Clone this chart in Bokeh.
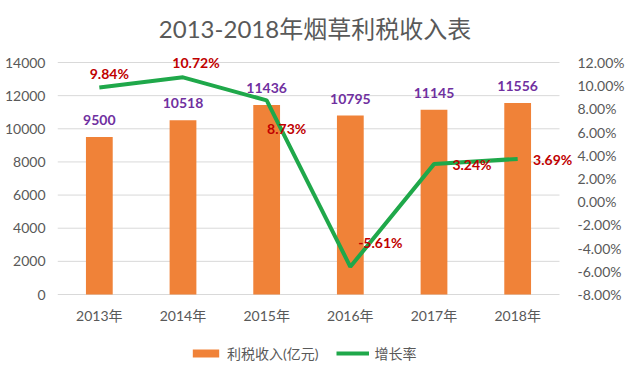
from bokeh.plotting import figure
from bokeh.models import (ColumnDataSource, Range1d, LinearAxis, FixedTicker,
                          NumeralTickFormatter, Legend, LegendItem)
from bokeh.core.properties import value
from bokeh.embed import file_html
from bokeh.resources import INLINE

# ---- data ----
years = ["2013年", "2014年", "2015年", "2016年", "2017年", "2018年"]
revenue = [9500, 10518, 11436, 10795, 11145, 11556]
growth = [0.0984, 0.1072, 0.0873, -0.0561, 0.0324, 0.0369]
left_ticks = [0, 2000, 4000, 6000, 8000, 10000, 12000, 14000]
right_ticks = [-0.08, -0.06, -0.04, -0.02, 0.0, 0.02, 0.04, 0.06, 0.08, 0.10, 0.12]

# label placement (screen px), kept apart from the data
pct_dx = [10, 13, 20, 30, 38, 35]
pct_dy = [-14, -15, 28, -24, 0, 1]

FONT = "Lato, 'Noto Sans CJK SC', sans-serif"
GRAY = "#595959"

# layout (px)
PLOT_H = 232          # between lowest and highest tick
HEAD = 10             # headroom above top tick
FOOT = 71             # room below the zero line for category labels + legend
FRAME_W = 515
CAT_W = 502           # taken by the six categories
n = len(years)
idx = list(range(n))
x_end = (n - 0.5) + (FRAME_W / CAT_W * n - n)
l_lo, l_hi = left_ticks[0], left_ticks[-1]
r_lo, r_hi = right_ticks[0], right_ticks[-1]
l_top = l_lo + (l_hi - l_lo) * (PLOT_H + HEAD) / PLOT_H
r_top = r_lo + (r_hi - r_lo) * (PLOT_H + HEAD) / PLOT_H
l_bot = l_lo - (l_hi - l_lo) * FOOT / PLOT_H
r_bot = r_lo - (r_hi - r_lo) * FOOT / PLOT_H

src = ColumnDataSource(dict(
    x=idx, rev=revenue, rev_txt=[str(v) for v in revenue],
    g=growth, g_txt=["%.2f%%" % (v * 100) for v in growth],
    dx=pct_dx, dy=pct_dy,
))
grid_src = ColumnDataSource(dict(
    x0=[-0.5] * len(left_ticks), x1=[n - 0.5] * len(left_ticks), y=left_ticks))

p = figure(x_range=Range1d(-0.5, x_end), y_range=Range1d(l_bot, l_top),
           frame_width=FRAME_W, frame_height=PLOT_H + HEAD + FOOT,
           output_backend="svg", toolbar_location=None,
           min_border_left=57, min_border_right=52, min_border_top=52,
           min_border_bottom=2)
p.outline_line_color = None
p.background_fill_color = "white"
p.border_fill_color = "white"

p.title.text = "2013-2018年烟草利税收入表"
p.title.align = "center"
p.title.text_font = FONT
p.title.text_font_size = "24px"
p.title.text_font_style = "normal"
p.title.text_color = GRAY
p.title.standoff = 20

p.extra_y_ranges = {"pct": Range1d(r_bot, r_top)}

p.segment(x0="x0", x1="x1", y0="y", y1="y", source=grid_src,
          line_color="#D9D9D9", line_width=1)

bars = p.vbar(x="x", top="rev", bottom=0, width=0.32, source=src,
              fill_color="#F08238", line_color=None)
line = p.line(x="x", y="g", source=src, y_range_name="pct",
              line_color="#1FA84A", line_width=4)

p.text(x="x", y="rev", text="rev_txt", source=src, text_align="center",
       text_baseline="middle", y_offset=-17, text_font=value(FONT),
       text_font_size="14px", text_font_style="bold", text_color="#7030A0")
p.text(x="x", y="g", text="g_txt", source=src, y_range_name="pct",
       text_align="center", text_baseline="middle", x_offset="dx", y_offset="dy",
       text_font=value(FONT), text_font_size="14px", text_font_style="bold",
       text_color="#C00000")

# axes
p.xaxis.ticker = FixedTicker(ticks=idx)
p.xaxis.major_label_overrides = {i: y for i, y in zip(idx, years)}
p.xaxis.axis_line_color = None
p.xaxis.major_tick_line_color = None
p.xaxis.major_tick_out = 0
p.xaxis.minor_tick_line_color = None
p.xaxis.major_label_text_font = FONT
p.xaxis.major_label_text_font_size = "14px"
p.xaxis.major_label_text_color = GRAY
p.xaxis.major_label_standoff = -(FOOT - 23 + 11)

p.yaxis.ticker = FixedTicker(ticks=left_ticks)
p.yaxis.axis_line_color = None
p.yaxis.major_tick_line_color = None
p.yaxis.major_tick_out = 0
p.yaxis.minor_tick_line_color = None
p.yaxis.major_label_text_font = FONT
p.yaxis.major_label_text_font_size = "14px"
p.yaxis.major_label_text_color = GRAY
p.yaxis.major_label_standoff = 12

ra = LinearAxis(y_range_name="pct", ticker=FixedTicker(ticks=right_ticks),
                formatter=NumeralTickFormatter(format="0.00%"))
ra.axis_line_color = None
ra.major_tick_line_color = None
ra.major_tick_out = 0
ra.minor_tick_line_color = None
ra.major_label_text_font = FONT
ra.major_label_text_font_size = "14px"
ra.major_label_text_color = GRAY
ra.major_label_standoff = 5
p.add_layout(ra, "right")

p.xgrid.grid_line_color = None
p.ygrid.grid_line_color = None

legend = Legend(items=[LegendItem(label="利税收入(亿元)", renderers=[bars]),
                       LegendItem(label="增长率", renderers=[line])],
                orientation="horizontal", location=(132, 2),
                glyph_width=33, glyph_height=10, label_standoff=5, spacing=18,
                padding=0, margin=0, border_line_color=None,
                background_fill_alpha=0,
                label_text_font=FONT, label_text_font_size="14px",
                label_text_color=GRAY)
p.add_layout(legend, "center")

open("out.html", "w").write(file_html(p, INLINE))
